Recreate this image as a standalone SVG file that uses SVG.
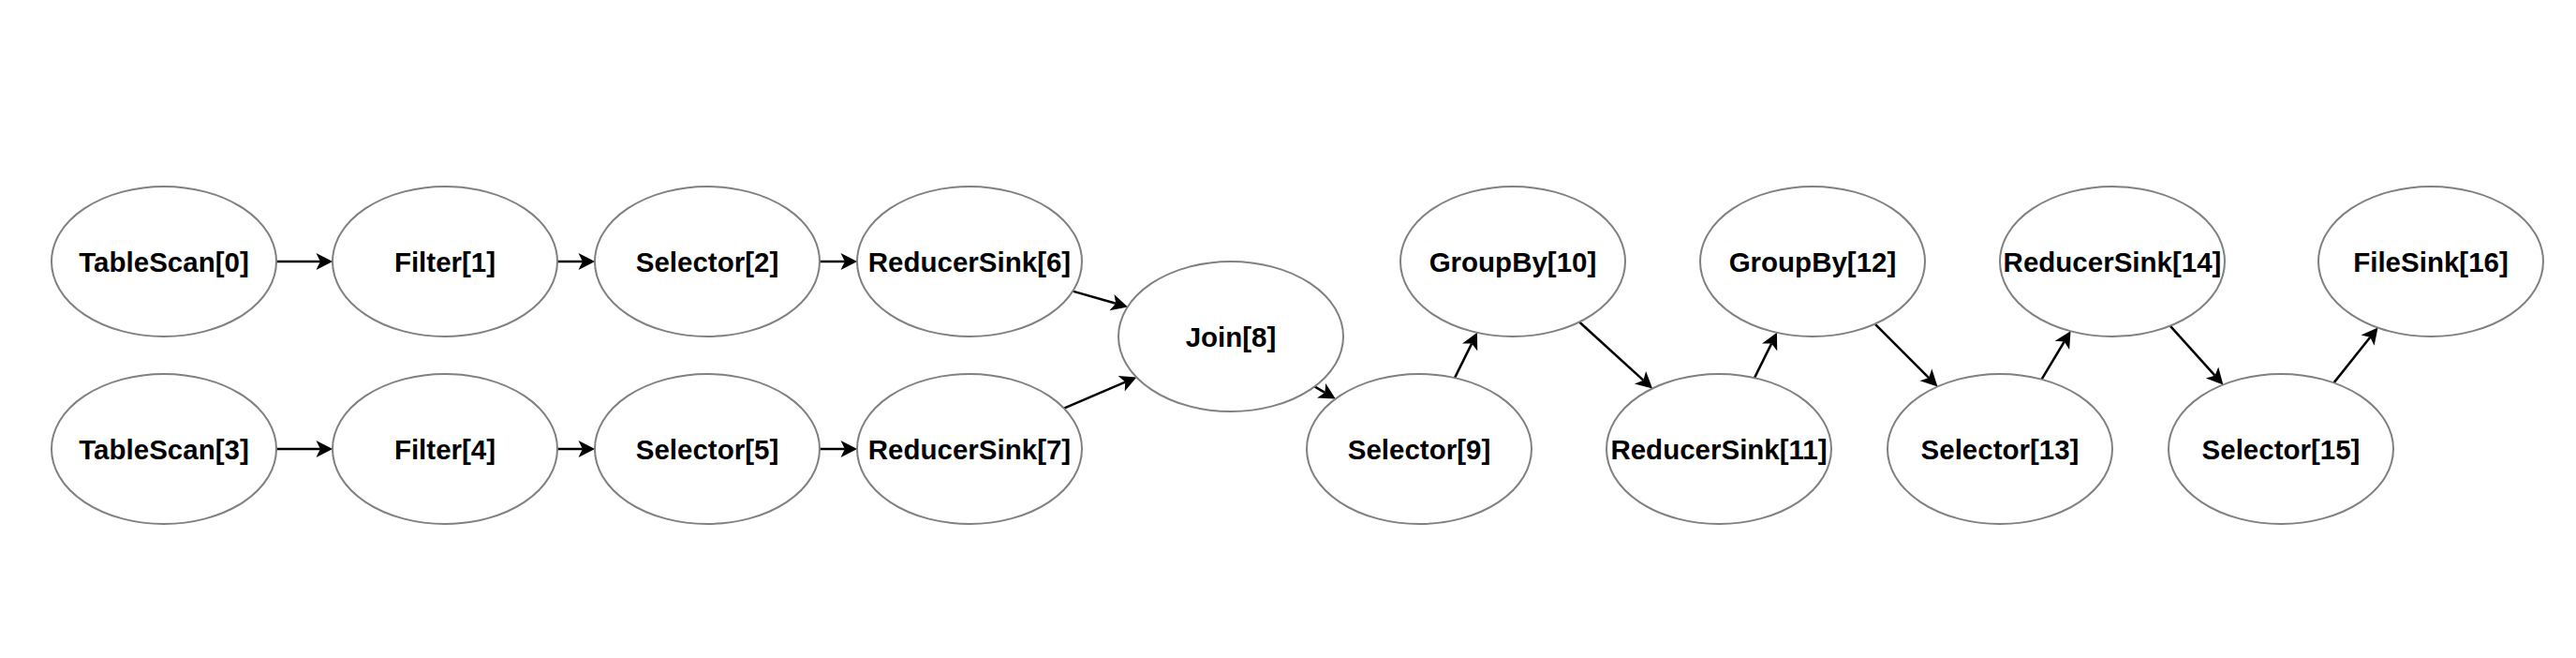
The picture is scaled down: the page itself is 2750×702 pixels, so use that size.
<svg xmlns="http://www.w3.org/2000/svg" width="2750" height="702" viewBox="0 0 2750 702">
<defs>
<style>
.n ellipse{fill:#ffffff;stroke:#808080;stroke-width:2}
.n text{font-family:"Liberation Sans",Arial,Helvetica,sans-serif;font-weight:bold;font-size:29.5px;fill:#000000;text-anchor:middle}
.e path{fill:none;stroke:#000000;stroke-width:2.5;marker-end:url(#arr)}
</style>
<marker id="arr" markerUnits="userSpaceOnUse" markerWidth="20" markerHeight="20" refX="4.4" refY="9" orient="auto" overflow="visible">
<path d="M0,0 L17.6,9 L0,18 L4.4,9 Z" fill="#000000" stroke="none"/>
</marker>
</defs>
<rect width="2750" height="702" fill="#ffffff"/>
<g id="connectors" class="e">
<path d="M295,279 L341.9,279"/>
<path d="M595,279 L621.9,279"/>
<path d="M875,279 L901.9,279"/>
<path d="M295,479 L341.9,479"/>
<path d="M595,479 L621.9,479"/>
<path d="M875,479 L901.9,479"/>
<path d="M1145.2,310.6 L1191.2,323.8"/>
<path d="M1135.8,435.6 L1201.2,407.6"/>
<path d="M1403.4,412.4 L1414.4,418.9"/>
<path d="M1553,403.1 L1571.1,366.6"/>
<path d="M1686,343.5 L1754.3,405.7"/>
<path d="M1873,403.1 L1891.1,366.6"/>
<path d="M2001.6,345.6 L2059.1,403.1"/>
<path d="M2179.6,404.7 L2203.7,364.5"/>
<path d="M2316.7,347.6 L2364.5,400.7"/>
<path d="M2491.5,408.4 L2530.3,359.8"/>
</g>
<g id="n0" class="n"><ellipse cx="175" cy="279" rx="120" ry="80"/><text x="175" y="290">TableScan[0]</text></g>
<g id="n1" class="n"><ellipse cx="475" cy="279" rx="120" ry="80"/><text x="475" y="290">Filter[1]</text></g>
<g id="n2" class="n"><ellipse cx="755" cy="279" rx="120" ry="80"/><text x="755" y="290">Selector[2]</text></g>
<g id="n6" class="n"><ellipse cx="1035" cy="279" rx="120" ry="80"/><text x="1035" y="290">ReducerSink[6]</text></g>
<g id="n3" class="n"><ellipse cx="175" cy="479" rx="120" ry="80"/><text x="175" y="490">TableScan[3]</text></g>
<g id="n4" class="n"><ellipse cx="475" cy="479" rx="120" ry="80"/><text x="475" y="490">Filter[4]</text></g>
<g id="n5" class="n"><ellipse cx="755" cy="479" rx="120" ry="80"/><text x="755" y="490">Selector[5]</text></g>
<g id="n7" class="n"><ellipse cx="1035" cy="479" rx="120" ry="80"/><text x="1035" y="490">ReducerSink[7]</text></g>
<g id="n8" class="n"><ellipse cx="1314" cy="359" rx="120" ry="80"/><text x="1314" y="370">Join[8]</text></g>
<g id="n9" class="n"><ellipse cx="1515" cy="479" rx="120" ry="80"/><text x="1515" y="490">Selector[9]</text></g>
<g id="n10" class="n"><ellipse cx="1615" cy="279" rx="120" ry="80"/><text x="1615" y="290">GroupBy[10]</text></g>
<g id="n11" class="n"><ellipse cx="1835" cy="479" rx="120" ry="80"/><text x="1835" y="490">ReducerSink[11]</text></g>
<g id="n12" class="n"><ellipse cx="1935" cy="279" rx="120" ry="80"/><text x="1935" y="290">GroupBy[12]</text></g>
<g id="n13" class="n"><ellipse cx="2135" cy="479" rx="120" ry="80"/><text x="2135" y="490">Selector[13]</text></g>
<g id="n14" class="n"><ellipse cx="2255" cy="279" rx="120" ry="80"/><text x="2255" y="290">ReducerSink[14]</text></g>
<g id="n15" class="n"><ellipse cx="2435" cy="479" rx="120" ry="80"/><text x="2435" y="490">Selector[15]</text></g>
<g id="n16" class="n"><ellipse cx="2595" cy="279" rx="120" ry="80"/><text x="2595" y="290">FileSink[16]</text></g>
</svg>
